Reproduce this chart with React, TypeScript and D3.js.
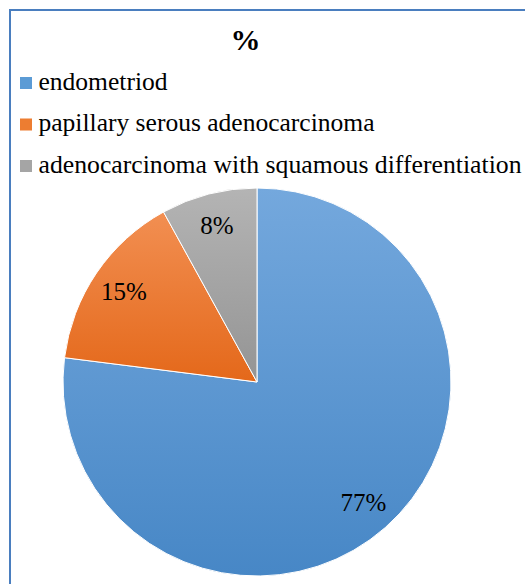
import React from "react";
import * as d3 from "d3";

const categories = [
  "endometriod",
  "papillary serous adenocarcinoma",
  "adenocarcinoma with squamous differentiation",
];
const values = [77, 15, 8];
const valueLabels = ["77%", "15%", "8%"];
const chartTitle = "%";

// top / bottom stops of each slice's vertical gradient
const topColors = ["#74a8dd", "#f28f52", "#b4b4b4"];
const bottomColors = ["#4787c6", "#e4681a", "#949494"];
const swatchColors = ["#5b9bd5", "#ed7d31", "#a5a5a5"];

// rendered width of each legend entry's text
const legendTextWidths = [129, 336, 483];

const W = 525;
const H = 584;
const cx = 257;
const cy = 382;
const R = 194;
const FONT =
  '"Liberation Serif", "Times New Roman", Times, "DejaVu Serif", "Noto Serif", Tinos, serif';
const serif = { fontFamily: FONT };

export default function App() {
  const pie = d3
    .pie<number>()
    .sort(null)
    .value((d) => d);
  const arcs = pie(values);
  const arc = d3.arc<d3.PieArcDatum<number>>().innerRadius(0).outerRadius(R);
  const labelArc = d3
    .arc<d3.PieArcDatum<number>>()
    .innerRadius(R * 0.83)
    .outerRadius(R * 0.83);

  const legendY = d3
    .scalePoint<string>()
    .domain(categories)
    .range([83, 166]);

  return (
    <svg
      width={W}
      height={H}
      style={{ position: "absolute", left: 0, top: 0, background: "#fff" }}
    >
      <defs>
        {categories.map((c, i) => (
          <linearGradient key={c} id={`g${i}`} x1="0" y1="0" x2="0" y2="1">
            <stop offset="0" stopColor={topColors[i]} />
            <stop offset="1" stopColor={bottomColors[i]} />
          </linearGradient>
        ))}
      </defs>
      <rect x={0} y={0} width={W} height={H} fill="#fff" />
      <rect
        x={10}
        y={10}
        width={W + 20}
        height={H + 20}
        fill="none"
        stroke="#4a7ebf"
        strokeWidth={2}
      />
      <text
        x={245.5}
        y={50}
        textAnchor="middle"
        style={serif}
        fontWeight="bold"
        fontSize={30}
        fill="#000"
      >
        {chartTitle}
      </text>
      {categories.map((c, i) => {
        const y = legendY(c) as number;
        return (
          <g key={c}>
            <rect x={20} y={y - 6} width={12} height={12} fill={swatchColors[i]} />
            <text
              x={38.5}
              y={y + 6.5}
              style={serif}
              fontSize={25}
              textLength={legendTextWidths[i]}
              lengthAdjust="spacingAndGlyphs"
              fill="#000"
            >
              {c}
            </text>
          </g>
        );
      })}
      <g transform={`translate(${cx},${cy})`}>
        {arcs.map((a, i) => (
          <path
            key={i}
            d={arc(a) as string}
            fill={`url(#g${i})`}
            stroke="#fff"
            strokeWidth={1}
          />
        ))}
        {arcs.map((a, i) => {
          const [lx, ly] = labelArc.centroid(a);
          return (
            <text
              key={`l${i}`}
              x={lx}
              y={ly}
              dy="0.33em"
              textAnchor="middle"
              style={serif}
              fontSize={25}
              fill="#000"
            >
              {valueLabels[i]}
            </text>
          );
        })}
      </g>
    </svg>
  );
}
